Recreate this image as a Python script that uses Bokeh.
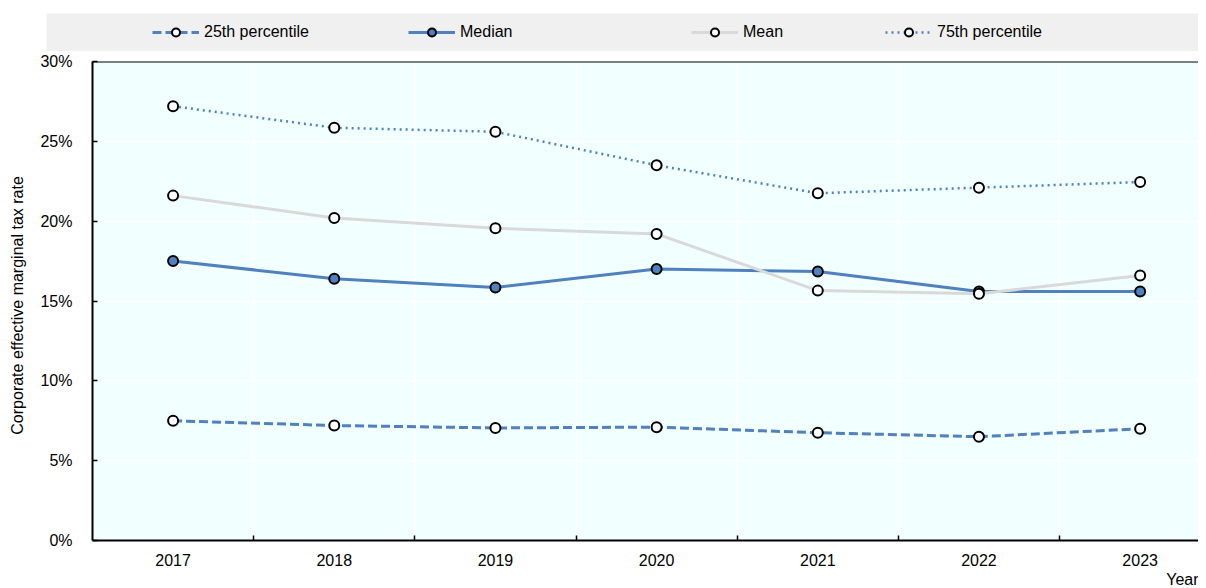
from bokeh.plotting import figure
from bokeh.layouts import column
from bokeh.models import (FixedTicker, PrintfTickFormatter, Legend, LegendItem, Range1d, Span, Title)
from bokeh.embed import file_html
from bokeh.resources import INLINE

years = [2017, 2018, 2019, 2020, 2021, 2022, 2023]
p25 = [7.5, 7.2, 7.05, 7.1, 6.75, 6.5, 7.0]
median = [17.5, 16.4, 15.85, 17.0, 16.85, 15.6, 15.6]
mean = [21.6, 20.2, 19.55, 19.2, 15.65, 15.45, 16.6]
p75 = [27.2, 25.85, 25.6, 23.5, 21.75, 22.1, 22.45]
y_ticks = [0, 5, 10, 15, 20, 25, 30]
series_names = ["25th percentile", "Median", "Mean", "75th percentile"]
series_values = [p25, median, mean, p75]

BLUE = "#4e81bd"
GREY = "#d9d9d9"
BAND = "#f0f0f0"
FONT = "Liberation Sans"
W = 1198

styles = [
    dict(line_color=BLUE, line_width=3, line_dash="9 4", fill="white"),
    dict(line_color=BLUE, line_width=3, line_dash="solid", fill=BLUE),
    dict(line_color=GREY, line_width=3, line_dash="solid", fill="white"),
    dict(line_color=BLUE, line_width=2.5, line_dash="2 4", fill="white"),
]

# ---------- legend strip (grey band) ----------
lf = figure(width=W - 46, height=38, output_backend="svg", toolbar_location=None,
            x_range=Range1d(0, 1), y_range=Range1d(0, 1),
            x_axis_type=None, y_axis_type=None,
            min_border_left=0, min_border_right=0, min_border_top=0, min_border_bottom=0)
lf.margin = (13, 0, 0, 46)
try:
    lf.frame_align = False
except Exception:
    pass
lf.background_fill_color = BAND
lf.border_fill_color = BAND
lf.outline_line_color = None
lf.grid.visible = False

legend_x = [106, 362, 645, 839]
for name, vals, st, lx in zip(series_names, series_values, styles, legend_x):
    # renderers lie outside the strip's visible range; only their legend glyphs show
    lr = lf.line(years, vals, line_color=st["line_color"], line_width=st["line_width"],
                 line_dash=st["line_dash"])
    sr = lf.scatter(years, vals, size=10, fill_color=st["fill"], line_color="black", line_width=2)
    lg = Legend(items=[LegendItem(label=name, renderers=[lr, sr])], location=(lx, 9))
    lg.background_fill_alpha = 0
    lg.border_line_alpha = 0
    lg.glyph_width = 47
    lg.glyph_height = 20
    lg.label_height = 20
    lg.label_standoff = 5
    lg.padding = 0
    lg.margin = 0
    lg.label_text_font = FONT
    lg.label_text_font_size = "16px"
    lg.label_text_color = "black"
    lf.add_layout(lg, "center")

# ---------- main chart ----------
p = figure(width=W, height=537, output_backend="svg", toolbar_location=None,
           x_range=Range1d(2016.5, 2023.362), y_range=Range1d(0, 30),
           min_border_left=92, min_border_right=0, min_border_top=10, min_border_bottom=48)
try:
    p.frame_align = False
except Exception:
    pass
p.background_fill_color = "#f2ffff"
p.border_fill_color = "white"
p.outline_line_color = None

p.xaxis.ticker = FixedTicker(ticks=years, minor_ticks=[y + 0.5 for y in years[:-1]])
p.xaxis.major_tick_line_alpha = 0
p.xaxis.minor_tick_in = 5
p.xaxis.minor_tick_out = 0
p.xaxis.minor_tick_line_color = "black"
p.xaxis.minor_tick_line_width = 1.5
p.xaxis.axis_line_width = 2
p.xaxis.axis_line_color = "black"
p.xaxis.major_label_standoff = 7
p.xaxis.major_label_text_font = FONT
p.xaxis.major_label_text_font_size = "16px"
p.xaxis.major_label_text_color = "black"

p.yaxis.ticker = FixedTicker(ticks=y_ticks)
p.yaxis.formatter = PrintfTickFormatter(format="%d%%")
p.yaxis.major_tick_in = 5
p.yaxis.major_tick_out = 0
p.yaxis.major_tick_line_width = 1.5
p.yaxis.minor_tick_line_alpha = 0
p.yaxis.axis_line_width = 2
p.yaxis.axis_line_color = "black"
p.yaxis.major_label_standoff = 20
p.yaxis.major_label_text_font = FONT
p.yaxis.major_label_text_font_size = "16px"
p.yaxis.major_label_text_color = "black"
p.yaxis.axis_label = "Corporate effective  marginal  tax rate"
p.yaxis.axis_label_text_font = FONT
p.yaxis.axis_label_text_font_size = "16px"
p.yaxis.axis_label_text_font_style = "normal"
p.yaxis.axis_label_text_color = "black"
p.yaxis.axis_label_standoff = 11

p.xgrid.ticker = FixedTicker(ticks=[y + 0.5 for y in years[:-1]])
p.xgrid.grid_line_color = "white"
p.xgrid.grid_line_width = 1.5
p.ygrid.ticker = FixedTicker(ticks=y_ticks[1:-1])
p.ygrid.grid_line_color = "white"
p.ygrid.grid_line_width = 1.5

p.add_layout(Span(location=30, dimension="width", line_color="black", line_width=2))

for vals, st in zip(series_values, styles):
    p.line(years, vals, line_color=st["line_color"], line_width=st["line_width"],
           line_dash=st["line_dash"])
    p.scatter(years, vals, size=10, fill_color=st["fill"], line_color="black", line_width=2)

p.add_layout(Title(text="Year", align="right", text_font=FONT, text_font_size="16px",
                   text_font_style="normal", text_color="black", standoff=0), "below")

open("out.html", "w").write(file_html(column(lf, p, spacing=0), INLINE))
